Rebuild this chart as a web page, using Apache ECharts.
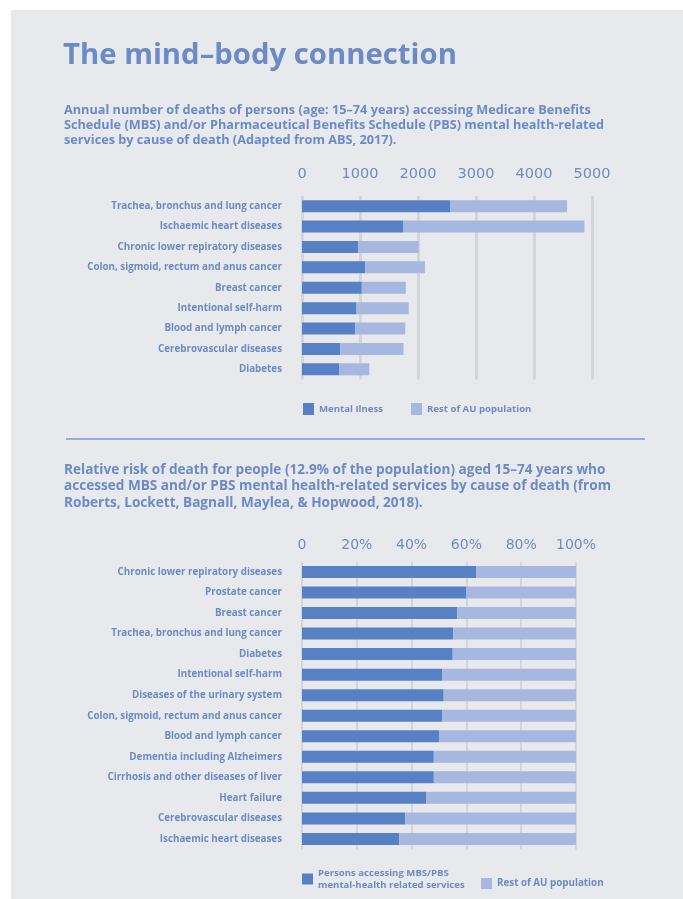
<!DOCTYPE html>
<html>
<head>
<meta charset="utf-8">
<script src="https://cdn.jsdelivr.net/npm/echarts@6/dist/echarts.min.js"></script>
<style>
html,body{margin:0;padding:0;background:#ffffff;}
#chart{width:683px;height:899px;}
</style>
</head>
<body>
<div id="chart"></div>
<script>
// ---- Chart 1: annual number of deaths ----
const causes1 = [
  'Trachea, bronchus and lung cancer',
  'Ischaemic heart diseases',
  'Chronic lower repiratory diseases',
  'Colon, sigmoid, rectum and anus cancer',
  'Breast cancer',
  'Intentional self-harm',
  'Blood and lymph cancer',
  'Cerebrovascular diseases',
  'Diabetes'
];
const mentalIllness = [2560, 1750, 970, 1090, 1030, 940, 920, 660, 640];
const restAU1 = [2010, 3120, 1040, 1030, 760, 900, 860, 1090, 520];
const ticks1 = ['0', '1000', '2000', '3000', '4000', '5000'];

// ---- Chart 2: relative risk of death (%) ----
const causes2 = [
  'Chronic lower repiratory diseases',
  'Prostate cancer',
  'Breast cancer',
  'Trachea, bronchus and lung cancer',
  'Diabetes',
  'Intentional self-harm',
  'Diseases of the urinary system',
  'Colon, sigmoid, rectum and anus cancer',
  'Blood and lymph cancer',
  'Dementia including Alzheimers',
  'Cirrhosis and other diseases of liver',
  'Heart failure',
  'Cerebrovascular diseases',
  'Ischaemic heart diseases'
];
const personsMBS = [63.5, 60.0, 56.7, 55.2, 55.0, 51.2, 51.7, 51.2, 50.0, 48.1, 48.1, 45.3, 37.7, 35.5];
const restAU2 = [36.5, 40.0, 43.3, 44.8, 45.0, 48.8, 48.3, 48.8, 50.0, 51.9, 51.9, 54.7, 62.3, 64.5];
const ticks2 = ['0', '20%', '40%', '60%', '80%', '100%'];

const titleText = 'The mind–body connection';
const sub1 = 'Annual number of deaths of persons (age: 15–74 years) accessing Medicare Benefits\nSchedule (MBS) and/or Pharmaceutical Benefits Schedule (PBS) mental health-related\nservices by cause of death (Adapted from ABS, 2017).';
const sub2 = 'Relative risk of death for people (12.9% of the population) aged 15–74 years who\naccessed MBS and/or PBS mental health-related services by cause of death (from\nRoberts, Lockett, Bagnall, Maylea, & Hopwood, 2018).';
const legendTop1 = 'Mental Ilness';
const legendBottom1 = 'Persons accessing MBS/PBS\nmental-health related services';
const legendRest = 'Rest of AU population';

const DARK = '#5781c4';
const LIGHT = '#a6b7e0';
const TXT = '#6a8bc6';
const FONT = '"Open Sans", sans-serif';
const NUMFONT = '"DejaVu Sans", sans-serif';

const chart = echarts.init(document.getElementById('chart'), null, {renderer: 'canvas'});

const catLabel = {
  color: TXT, fontFamily: FONT, fontWeight: 'bold', fontSize: 9.8, margin: 20
};

chart.setOption({
  animation: false,
  backgroundColor: '#ffffff',
  graphic: [
    {type: 'rect', z: -10, shape: {x: 11, y: 10, width: 672, height: 889}, style: {fill: '#e8e9ec'}},
    {type: 'line', shape: {x1: 66, y1: 439, x2: 645, y2: 439}, style: {stroke: '#7d99cf', lineWidth: 1.5}}
  ],
  title: [
    {text: titleText, left: 63, top: 41, padding: 0,
     textStyle: {color: TXT, fontFamily: FONT, fontWeight: 'bold', fontSize: 29.3}},
    {text: sub1, left: 64, top: 103, padding: 0,
     textStyle: {color: TXT, fontFamily: FONT, fontWeight: 'bold', fontSize: 12.7, lineHeight: 15}},
    {text: sub2, left: 64, top: 462, padding: 0,
     textStyle: {color: TXT, fontFamily: FONT, fontWeight: 'bold', fontSize: 13.6, lineHeight: 16.3}}
  ],
  legend: [
    {data: [legendTop1, legendRest], left: 303, top: 403, padding: 0, itemWidth: 11, itemHeight: 12, itemGap: 28,
     icon: 'rect', selectedMode: false,
     textStyle: {color: TXT, fontFamily: FONT, fontWeight: 'bold', fontSize: 9.6}},
    {data: [legendBottom1], left: 302, top: 867, padding: 0, itemWidth: 11, itemHeight: 11,
     icon: 'rect', selectedMode: false,
     textStyle: {color: TXT, fontFamily: FONT, fontWeight: 'bold', fontSize: 9.6, lineHeight: 12}},
    {data: [legendRest], left: 481, top: 878, padding: 0, itemWidth: 11, itemHeight: 11,
     icon: 'rect', selectedMode: false,
     textStyle: {color: TXT, fontFamily: FONT, fontWeight: 'bold', fontSize: 9.8}}
  ],
  grid: [
    {left: 302, width: 290, top: 196, height: 183.5, containLabel: false},
    {left: 302, width: 274, top: 561.7, height: 287.5, containLabel: false}
  ],
  xAxis: [
    {gridIndex: 0, type: 'value', position: 'top', min: 0, max: 5000, interval: 1000,
     axisLine: {show: false}, axisTick: {show: false},
     axisLabel: {color: '#6e8bc0', fontFamily: NUMFONT, fontSize: 14.5, margin: 14,
                 formatter: (v) => ticks1[Math.round(v / 1000)]},
     splitLine: {show: true, lineStyle: {color: '#d3d5da', width: 3}}},
    {gridIndex: 1, type: 'value', position: 'top', min: 0, max: 100, interval: 20,
     axisLine: {show: false}, axisTick: {show: false},
     axisLabel: {color: '#6e8bc0', fontFamily: NUMFONT, fontSize: 14, margin: 9,
                 formatter: (v) => ticks2[Math.round(v / 20)]},
     splitLine: {show: true, lineStyle: {color: '#d3d5da', width: 2}}}
  ],
  yAxis: [
    {gridIndex: 0, type: 'category', data: causes1, inverse: true,
     axisLine: {show: false}, axisTick: {show: false}, axisLabel: catLabel},
    {gridIndex: 1, type: 'category', data: causes2, inverse: true,
     axisLine: {show: false}, axisTick: {show: false}, axisLabel: catLabel}
  ],
  series: [
    {name: legendTop1, type: 'bar', stack: 'a', xAxisIndex: 0, yAxisIndex: 0, barWidth: 12,
     itemStyle: {color: DARK}, data: mentalIllness},
    {name: legendRest, type: 'bar', stack: 'a', xAxisIndex: 0, yAxisIndex: 0, barWidth: 12,
     itemStyle: {color: LIGHT}, data: restAU1},
    {name: legendBottom1, type: 'bar', stack: 'b', xAxisIndex: 1, yAxisIndex: 1, barWidth: 12,
     itemStyle: {color: DARK}, data: personsMBS},
    {name: legendRest, type: 'bar', stack: 'b', xAxisIndex: 1, yAxisIndex: 1, barWidth: 12,
     itemStyle: {color: LIGHT}, data: restAU2}
  ]
});
</script>
</body>
</html>
